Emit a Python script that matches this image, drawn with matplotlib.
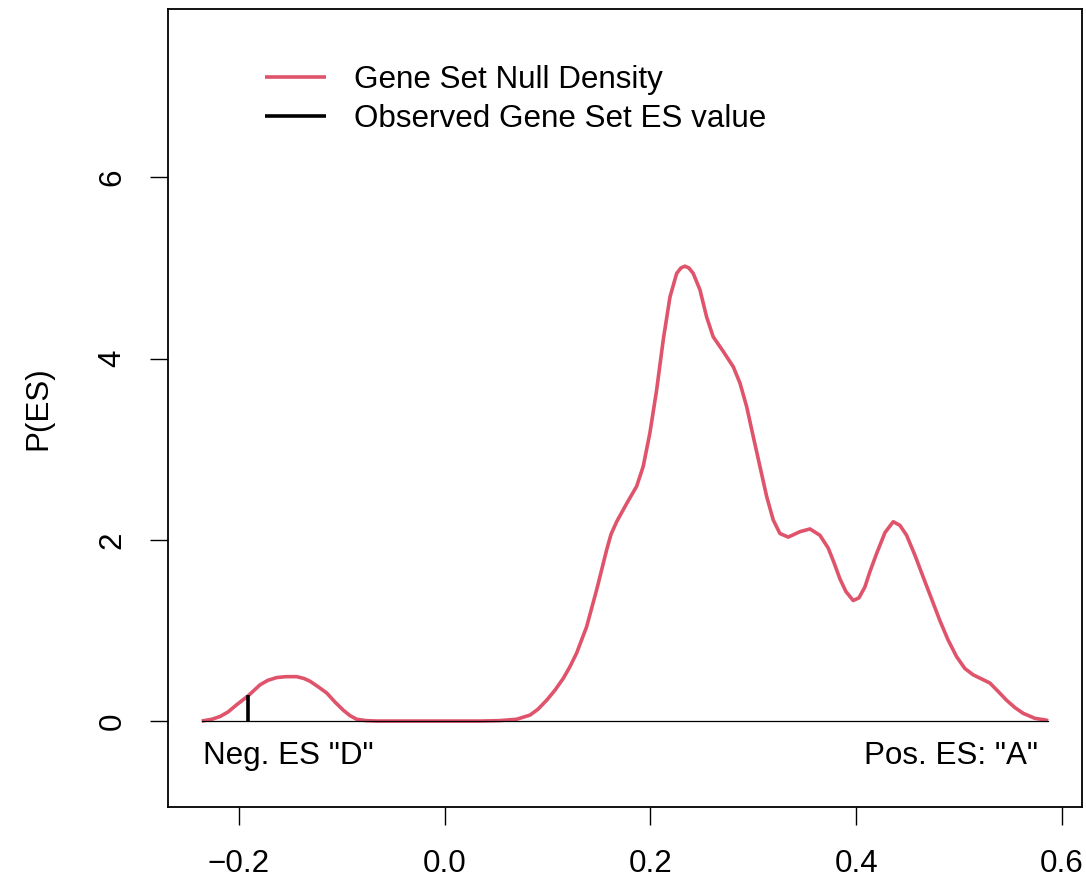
import numpy as np
import matplotlib.pyplot as plt

plt.rcParams['font.family'] = ['Liberation Sans', 'DejaVu Sans']

# null density of the gene set ES
es_x = [-0.2360, -0.2260, -0.2182, -0.2104, -0.2020, -0.1907, -0.1793, -0.1716,
        -0.1631, -0.1541, -0.1437, -0.1366, -0.1308, -0.1230, -0.1145, -0.1065,
        -0.0984, -0.0919, -0.0854, -0.0764, -0.0660, 0.0344, 0.0538, 0.0700,
        0.0830, 0.0907, 0.0992, 0.1072, 0.1153, 0.1218, 0.1283, 0.1380, 0.1478,
        0.1575, 0.1617, 0.1672, 0.1769, 0.1866, 0.1930, 0.1995, 0.2060, 0.2125,
        0.2190, 0.2255, 0.2296, 0.2335, 0.2374, 0.2416, 0.2481, 0.2546, 0.2610,
        0.2707, 0.2805, 0.2870, 0.2935, 0.2999, 0.3064, 0.3129, 0.3193, 0.3258,
        0.3339, 0.3453, 0.3550, 0.3647, 0.3727, 0.3783, 0.3841, 0.3899, 0.3970,
        0.4026, 0.4084, 0.4133, 0.4198, 0.4279, 0.4359, 0.4424, 0.4489, 0.4570,
        0.4650, 0.4812, 0.4890, 0.4975, 0.5055, 0.5136, 0.5298, 0.5376, 0.5460,
        0.5540, 0.5622, 0.5736, 0.5849, 0.5860]
density = [0.00, 0.02, 0.05, 0.10, 0.18, 0.28, 0.40, 0.45,
           0.48, 0.49, 0.49, 0.47, 0.44, 0.38, 0.31, 0.21,
           0.12, 0.06, 0.02, 0.005, 0.00, 0.00, 0.005, 0.02,
           0.066, 0.13, 0.23, 0.34, 0.47, 0.60, 0.75, 1.04, 1.45,
           1.89, 2.06, 2.20, 2.40, 2.59, 2.81, 3.18, 3.65, 4.21,
           4.68, 4.94, 5.00, 5.02, 5.00, 4.94, 4.76, 4.46, 4.24,
           4.08, 3.91, 3.73, 3.47, 3.14, 2.81, 2.48, 2.22, 2.07,
           2.03, 2.09, 2.12, 2.05, 1.91, 1.75, 1.57, 1.43, 1.33,
           1.36, 1.48, 1.65, 1.85, 2.08, 2.20, 2.16, 2.05, 1.83,
           1.59, 1.11, 0.90, 0.71, 0.58, 0.51, 0.42, 0.33, 0.23,
           0.15, 0.085, 0.03, 0.01, 0.00]

observed_es = -0.191
observed_height = 0.29

x_ticks = [-0.2, 0.0, 0.2, 0.4, 0.6]
y_ticks = [0, 2, 4, 6]

fs = 22.6
red = '#DF536B'

fig = plt.figure(figsize=(10.86, 8.83), dpi=100)
ax = fig.add_axes([0.1547, 0.0857, 0.9963 - 0.1547, 0.9895 - 0.0857])

ax.plot(es_x, density, color=red, lw=2.6, label='Gene Set Null Density',
        solid_capstyle='butt', solid_joinstyle='round', zorder=2)
ax.plot([min(es_x), max(es_x)], [0, 0], color='black', lw=0.9, zorder=3)
ax.plot([observed_es, observed_es], [0, observed_height], color='black', lw=2.6,
        label='Observed Gene Set ES value', solid_capstyle='butt', zorder=4)

ax.text(-0.2347, -0.386, 'Neg. ES "D"', ha='left', va='center', fontsize=fs)
ax.text(0.5765, -0.386, 'Pos. ES: "A"', ha='right', va='center', fontsize=fs)

ax.set_xlim(-0.2687, 0.6193)
ax.set_ylim(-0.952, 7.855)
ax.set_xticks(x_ticks)
ax.set_xticklabels(['%.1f' % v if v >= 0 else '\u2212%.1f' % -v for v in x_ticks])
ax.set_yticks(y_ticks)
ax.set_yticklabels([str(v) for v in y_ticks], rotation=90, va='center')
ax.tick_params(length=13, width=1.0, labelsize=fs, pad=16)
ax.tick_params(axis='x', pad=17)
for s in ax.spines.values():
    s.set_linewidth(1.3)

ax.set_ylabel('P(ES)', fontsize=fs, labelpad=32)

ax.legend(loc='upper left', bbox_to_anchor=(0.0925, 0.9455), frameon=False,
          fontsize=fs, handlelength=1.94, handletextpad=0.89, labelspacing=0.28,
          borderaxespad=0)

fig.savefig('out.png', dpi=100)
